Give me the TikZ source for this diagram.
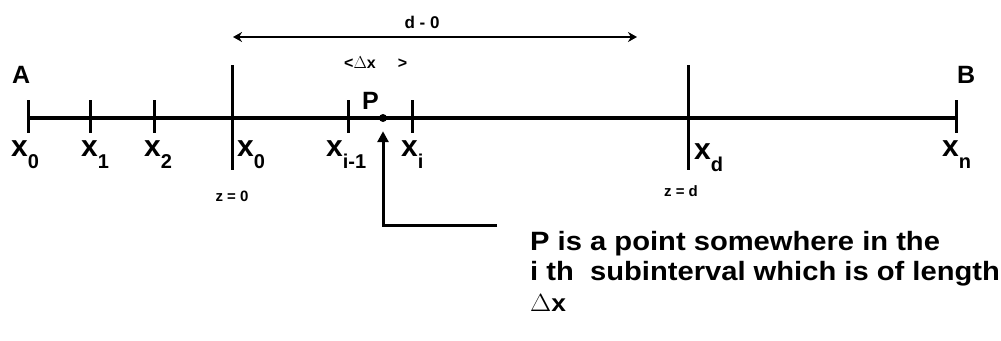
\documentclass[tikz,border=0pt]{standalone}
\usepackage{fontspec}
\setmainfont{Liberation Sans}
\usetikzlibrary{arrows.meta}
\newcommand\fs[1]{\fontsize{#1}{#1}\selectfont}
\newcommand\xl[1]{{\fs{30}x}\raisebox{-12pt}{\fs{20}#1}}
\begin{document}
\begin{tikzpicture}[x=1pt,y=-1pt,
  every node/.style={inner sep=0pt, font=\bfseries},
  axisline/.style={line width=4pt},
  tick/.style={line width=3pt},
  lab/.style={anchor=base west},
  wide/.style={anchor=base west, xscale=1.1},
  dimarrow/.style={line width=2.5pt, {Stealth[length=9pt,width=10pt]}-{Stealth[length=9pt,width=10pt]}},
  parrow/.style={line width=3pt, -{Triangle[length=11pt,width=11pt]}}]
\useasboundingbox (0,0) rectangle (1001,340);
% axis
\coordinate (a0) at (28,118);
\coordinate (an) at (956,118);
\draw[axisline] (a0) -- (an);
% small ticks
\foreach \x/\n in {28/t0,90/t1,154/t2,348/tim,412/ti,956/tn}{
  \draw[tick] (\x,100) coordinate (\n top) -- (\x,133) coordinate (\n bot);
}
% long ticks
\draw[tick] (232,65) coordinate (ta top) -- (232,170) coordinate (ta bot);
\draw[tick] (688,65) coordinate (tb top) -- (688,170) coordinate (tb bot);
% end labels
\node[lab] (A) at (12,83) {\fs{25}A};
\node[lab] (B) at (957,83) {\fs{25}B};
% tick labels
\node[lab] (l0) at (11,156) {\xl{0}};
\node[lab] (l1) at (81,156) {\xl{1}};
\node[lab] (l2) at (144,156) {\xl{2}};
\node[lab] (la) at (237,156) {\xl{0}};
\node[lab] (lim) at (326,156) {\xl{i-1}};
\node[lab] (li) at (401,156) {\xl{i}};
\node[lab] (lb) at (694,159) {\xl{d}};
\node[lab] (ln) at (942,156) {\xl{n}};
% z labels
\node (za) at (232,196) {\fs{15}z = 0};
\node (zb) at (681,191) {\fs{15}z = d};
% dimension arrow
\coordinate (da) at (233,37);
\coordinate (db) at (637,37);
\draw[dimarrow] (da) -- (db);
\node (dlab) at (422,22) {\fs{17}d - 0};
\node[lab] (dx) at (344,68) {\fs{16}<$\Delta$x\hspace{22pt}>};
% point P
\node[lab] (P) at (362,109) {\fs{25}P};
\node[circle, fill=black, minimum size=8pt] (pdot) at (383,118) {};
% pointer arrow
\coordinate (pc) at (497,225);
\draw[parrow] (pc) -| ([yshift=-9pt]pdot.south);
% explanation text
\node[wide] (t1) at (530,250) {\fs{26.5}P is a point somewhere in the};
\node[wide] (t2) at (530,280) {\fs{26.5}i th\ \ subinterval which is of length};
\node[wide] (t3) at (530,311) {\fs{24}$\Delta$x};
\end{tikzpicture}
\end{document}
